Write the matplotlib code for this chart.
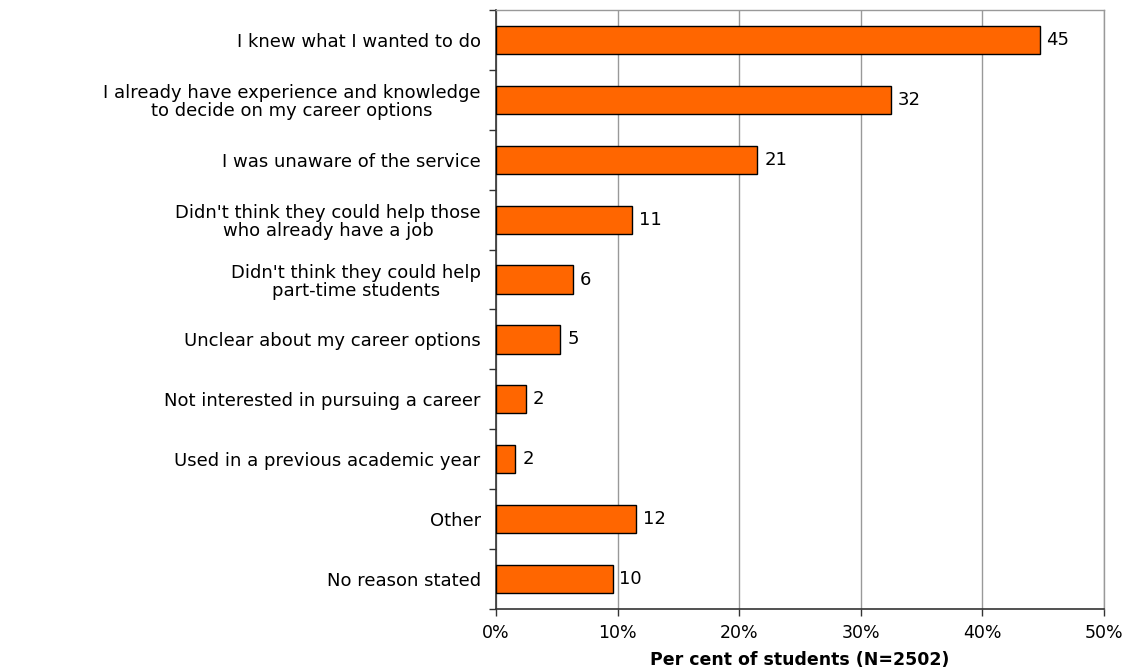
import matplotlib
matplotlib.use("Agg")
import matplotlib.pyplot as plt
import numpy as np

categories = [
    "I knew what I wanted to do",
    "I already have experience and knowledge\nto decide on my career options",
    "I was unaware of the service",
    "Didn't think they could help those\nwho already have a job",
    "Didn't think they could help\npart-time students",
    "Unclear about my career options",
    "Not interested in pursuing a career",
    "Used in a previous academic year",
    "Other",
    "No reason stated",
]
values = [44.7, 32.5, 21.5, 11.2, 6.3, 5.3, 2.5, 1.6, 11.5, 9.6]
labels = ["45", "32", "21", "11", "6", "5", "2", "2", "12", "10"]
xticks = [0, 10, 20, 30, 40, 50]

plt.rcParams['font.family'] = ['DejaVu Sans']
FS = 13
FSX = 12.5

fig = plt.figure(figsize=(11.34, 6.70), dpi=100)
ax = fig.add_axes([496/1134, 1 - 609/670, (1104-496)/1134, (609-10)/670])

n = len(categories)
y = np.arange(n)
ax.barh(y, values, height=0.47, color="#FF6600", edgecolor="#000000", linewidth=1.0, zorder=3)
for yi, v, lab in zip(y, values, labels):
    ax.text(v + 0.55, yi, lab, va="center", ha="left", fontsize=FS, color="black")

ax.set_ylim(n - 0.5, -0.5)
ax.set_xlim(0, 50)
ax.set_yticks(y)
ax.set_yticklabels(categories, fontsize=FS, ha="right", linespacing=1.0)
for t in ax.get_yticklabels():
    t.set_multialignment("center")
ax.set_yticks(np.arange(n + 1) - 0.5, minor=True)
ax.tick_params(axis="y", which="major", length=0, pad=11)
ax.tick_params(axis="y", which="minor", length=5, width=1, color="#333333", direction="out")
ax.set_xticks(xticks)
ax.set_xticklabels([f"{t}%" for t in xticks], fontsize=FSX)
ax.tick_params(axis="x", length=5, width=1, color="#333333", direction="out", pad=6)

ax.grid(axis="x", color="#999999", linewidth=1, zorder=0)
ax.set_axisbelow(True)
for s in ["top", "right"]:
    ax.spines[s].set_color("#999999")
    ax.spines[s].set_linewidth(1)
for s in ["left", "bottom"]:
    ax.spines[s].set_color("#333333")
    ax.spines[s].set_linewidth(1.2)

ax.set_xlabel("Per cent of students (N=2502)", fontsize=FSX, fontweight="bold", labelpad=6)

fig.savefig("out.png", dpi=100)
